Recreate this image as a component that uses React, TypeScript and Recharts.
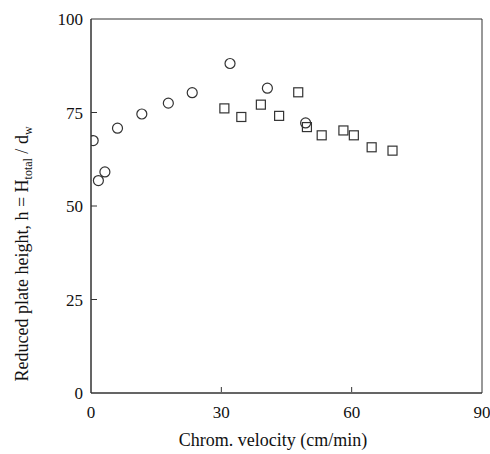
import { ScatterChart, Scatter, XAxis, YAxis, ReferenceArea } from 'recharts'

const circleX = [0.5, 1.7, 3.2, 6.1, 11.7, 17.8, 23.3, 32.0, 40.6, 49.4]
const circleH = [67.5, 56.8, 59.1, 70.8, 74.6, 77.5, 80.3, 88.1, 81.5, 72.2]

const squareX = [30.7, 34.6, 39.1, 43.3, 47.7, 49.7, 53.1, 58.1, 60.5, 64.6, 69.4]
const squareH = [76.1, 73.8, 77.1, 74.1, 80.4, 71.1, 68.9, 70.2, 68.9, 65.7, 64.8]

const xTicks = [0, 30, 60, 90]
const yTicks = [0, 25, 50, 75, 100]

const circles = circleX.map((v, i) => ({ v, h: circleH[i] }))
const squares = squareX.map((v, i) => ({ v, h: squareH[i] }))

const ink = '#333'
const font = '"Liberation Serif", "Times New Roman", serif'

function XTick({ x, y, payload }: any) {
  return (
    <g>
      {payload.value > 0 && payload.value < 90 && (
        <line x1={x} x2={x} y1={y - 14} y2={y - 19} stroke={ink} />
      )}
      <text x={x} y={y} dy="0.71em" textAnchor="middle" fontSize={17} fontFamily={font} fill="#111">
        {payload.value}
      </text>
    </g>
  )
}

function YTick({ x, y, payload }: any) {
  return (
    <g>
      {payload.value > 0 && payload.value < 100 && (
        <line x1={x + 8} x2={x + 14} y1={y} y2={y} stroke={ink} />
      )}
      <text x={x} y={y} dy="0.36em" textAnchor="end" fontSize={17} fontFamily={font} fill="#111">
        {payload.value}
      </text>
    </g>
  )
}

const circleShape = (p: any) => (
  <circle cx={p.cx} cy={p.cy} r={5} fill="none" stroke={ink} strokeWidth={1.2} />
)
const squareShape = (p: any) => (
  <rect x={p.cx - 4.5} y={p.cy - 4.5} width={9} height={9} fill="none" stroke={ink} strokeWidth={1.2} />
)

export default function App() {
  return (
    <div style={{ width: 490, height: 454, background: '#fff' }}>
      <style>{'body{margin:0}'}</style>
      <ScatterChart width={490} height={454} margin={{ top: 19, right: 8, bottom: 0, left: 31 }}>
        <XAxis
          type="number" dataKey="v" domain={[0, 90]} ticks={xTicks} allowDataOverflow
          height={61} tickSize={0} tickMargin={13} tick={<XTick />}
          axisLine={{ stroke: ink }} tickLine={false}
          label={{
            content: () => (
              <text x={273} y={440} dy="0.35em" textAnchor="middle" fontSize={18} fontFamily={font} fill="#111">
                Chrom. velocity (cm/min)
              </text>
            ),
          }}
        />
        <YAxis
          type="number" dataKey="h" domain={[0, 100]} ticks={yTicks} allowDataOverflow
          width={60} tickSize={0} tickMargin={8} tick={<YTick />}
          axisLine={{ stroke: ink }} tickLine={false}
          label={{
            content: () => (
              <text
                x={22} y={254} dy="0.35em" textAnchor="middle" fontSize={18} fontFamily={font} fill="#111"
                transform="rotate(-90, 22, 254)"
              >
                Reduced plate height, h = H
                <tspan fontSize={12} dy={4}>total</tspan>
                <tspan dy={-4}> / d</tspan>
                <tspan fontSize={12} dy={4}>w</tspan>
              </text>
            ),
          }}
        />
        <ReferenceArea x1={0} x2={90} y1={0} y2={100} fill="none" stroke={ink} strokeWidth={1} />
        <Scatter data={circles} shape={circleShape} isAnimationActive={false} />
        <Scatter data={squares} shape={squareShape} isAnimationActive={false} />
      </ScatterChart>
    </div>
  )
}
